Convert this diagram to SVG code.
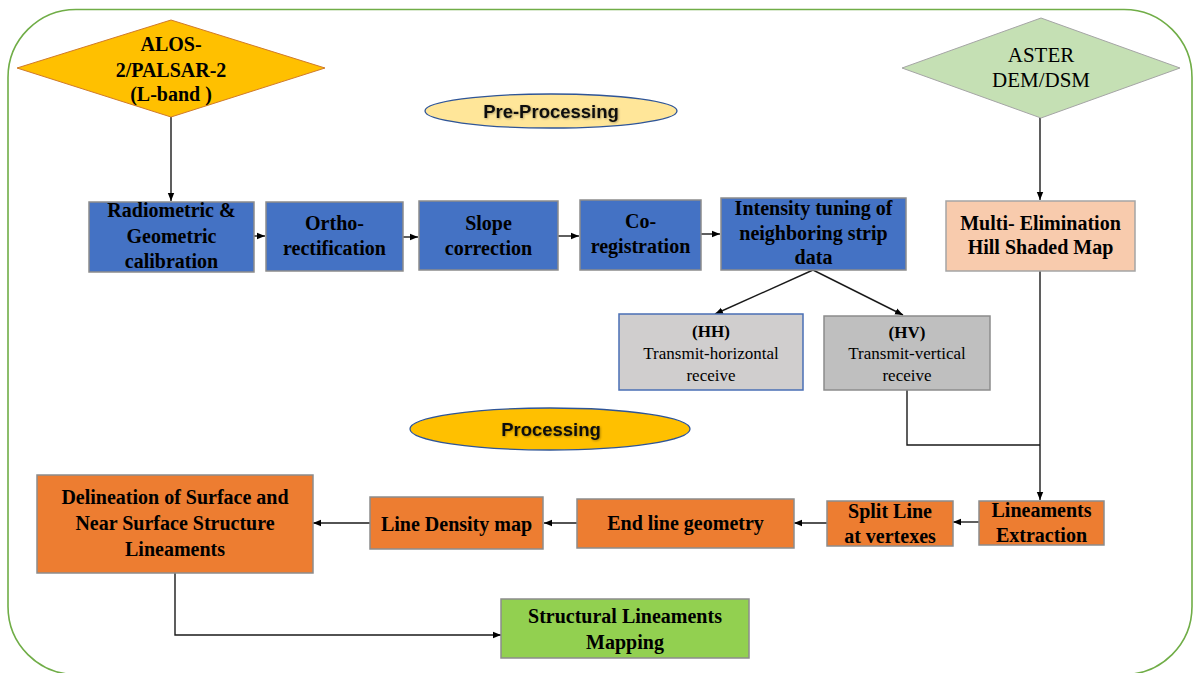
<svg xmlns="http://www.w3.org/2000/svg" width="1193" height="673" viewBox="0 0 1193 673">
<style>
.t{font-family:"Liberation Serif","Times New Roman",serif;font-size:20px;font-weight:bold;fill:#000;text-anchor:middle}
.r{font-family:"Liberation Serif","Times New Roman",serif;font-size:17px;fill:#000;text-anchor:middle}
.s{font-family:"Liberation Sans",Arial,sans-serif;font-size:18.5px;font-weight:bold;fill:#111;text-anchor:middle}
.blue{fill:#4472C4;stroke:#8C8C8C;stroke-width:1.5}
.org{fill:#ED7D31;stroke:#8C8C8C;stroke-width:1.5}
.c{fill:none;stroke:#1a1a1a;stroke-width:1.4}
</style>
<defs>
<marker id="arr" viewBox="0 0 10 10" refX="10" refY="5" markerWidth="8" markerHeight="8" orient="auto" markerUnits="userSpaceOnUse"><path d="M0,1 L10,5 L0,9 z" fill="#000"/></marker>
<filter id="sh" x="-10%" y="-30%" width="120%" height="160%"><feDropShadow dx="0.8" dy="0.8" stdDeviation="0.8" flood-color="#000" flood-opacity="0.35"/></filter>
</defs>
<rect width="1193" height="673" fill="#fff"/>
<rect x="8" y="9.5" width="1184" height="665" rx="68" ry="68" fill="none" stroke="#70AD47" stroke-width="1.6"/>

<g id="connectors">
<path class="c" d="M171,117 V201" marker-end="url(#arr)"/>
<path class="c" d="M254,236 H265" marker-end="url(#arr)"/>
<path class="c" d="M403,237 H418" marker-end="url(#arr)"/>
<path class="c" d="M558,236 H579" marker-end="url(#arr)"/>
<path class="c" d="M701,234 H720" marker-end="url(#arr)"/>
<path class="c" d="M813,270 L715,314" marker-end="url(#arr)"/>
<path class="c" d="M813,270 L903,315" marker-end="url(#arr)"/>
<path class="c" d="M1040,118 V200" marker-end="url(#arr)"/>
<path class="c" d="M1040,271 V500" marker-end="url(#arr)"/>
<path class="c" d="M907,390 V445 H1040"/>
<path class="c" d="M979,522 H953" marker-end="url(#arr)"/>
<path class="c" d="M827,523 H794" marker-end="url(#arr)"/>
<path class="c" d="M577,523 H544" marker-end="url(#arr)"/>
<path class="c" d="M370,523 H313" marker-end="url(#arr)"/>
<path class="c" d="M175,573 V635 H501" marker-end="url(#arr)"/>
</g>

<g id="alos">
<polygon points="17,68 171,20 325,68 171,117" fill="#FFC000" stroke="#D07A2A" stroke-width="1"/>
<text class="t" x="171" y="51">ALOS-</text>
<text class="t" x="171" y="77">2/PALSAR-2</text>
<text class="t" x="171" y="101">(L-band )</text>
</g>

<g id="aster">
<polygon points="902,68 1041,18 1180,68 1041,118" fill="#C5E0B4" stroke="#A5A5A5" stroke-width="1"/>
<text class="t" style="font-weight:normal;font-size:21px" x="1041" y="62">ASTER</text>
<text class="t" style="font-weight:normal;font-size:21px" x="1041" y="87">DEM/DSM</text>
</g>

<g id="preprocessing">
<ellipse cx="551" cy="111" rx="126" ry="17" fill="#FFE699" stroke="#2F5597" stroke-width="1.3"/>
<text class="s" x="551" y="118" filter="url(#sh)">Pre-Processing</text>
</g>

<g id="processing">
<ellipse cx="550" cy="429" rx="140" ry="21" fill="#FFC000" stroke="#2F5597" stroke-width="1.3"/>
<text class="s" x="551" y="436" filter="url(#sh)">Processing</text>
</g>

<g id="radiometric">
<rect class="blue" x="89" y="202" width="165" height="70"/>
<text class="t" x="171.5" y="217">Radiometric &amp;</text>
<text class="t" x="171.5" y="243">Geometric</text>
<text class="t" x="171.5" y="268">calibration</text>
</g>

<g id="ortho">
<rect class="blue" x="266" y="202" width="137" height="69"/>
<text class="t" x="334.5" y="230">Ortho-</text>
<text class="t" x="334.5" y="255">rectification</text>
</g>

<g id="slope">
<rect class="blue" x="419" y="201" width="139" height="69"/>
<text class="t" x="488.5" y="230">Slope</text>
<text class="t" x="488.5" y="255">correction</text>
</g>

<g id="coregistration">
<rect class="blue" x="580" y="200" width="121" height="70"/>
<text class="t" x="640.5" y="228">Co-</text>
<text class="t" x="640.5" y="253">registration</text>
</g>

<g id="intensity">
<rect class="blue" x="721" y="198" width="185" height="72"/>
<text class="t" x="813.5" y="215">Intensity tuning of</text>
<text class="t" x="813.5" y="240">neighboring strip</text>
<text class="t" x="813.5" y="264">data</text>
</g>

<g id="hh">
<rect x="619" y="314" width="184" height="76" fill="#D0CECE" stroke="#4A6FB5" stroke-width="1.5"/>
<text class="r" style="font-weight:bold" x="711" y="337">(HH)</text>
<text class="r" x="711" y="359">Transmit-horizontal</text>
<text class="r" x="711" y="381">receive</text>
</g>

<g id="hv">
<rect x="824" y="316" width="166" height="74" fill="#BFBFBF" stroke="#8C8C8C" stroke-width="1.5"/>
<text class="r" style="font-weight:bold" x="907" y="338">(HV)</text>
<text class="r" x="907" y="359">Transmit-vertical</text>
<text class="r" x="907" y="381">receive</text>
</g>

<g id="multi">
<rect x="946" y="201" width="189" height="70" fill="#F8CBAD" stroke="#A5A5A5" stroke-width="1.5"/>
<text class="t" x="1040.5" y="230">Multi- Elimination</text>
<text class="t" x="1040.5" y="254">Hill Shaded Map</text>
</g>

<g id="lineaments">
<rect class="org" x="979" y="501" width="125" height="44"/>
<text class="t" x="1041.5" y="517">Lineaments</text>
<text class="t" x="1041.5" y="542">Extraction</text>
</g>

<g id="split">
<rect class="org" x="827" y="501" width="126" height="45"/>
<text class="t" x="890" y="518">Split Line</text>
<text class="t" x="890" y="543">at vertexes</text>
</g>

<g id="endline">
<rect class="org" x="577" y="499" width="217" height="49"/>
<text class="t" x="685.5" y="530">End line geometry</text>
</g>

<g id="linedensity">
<rect class="org" x="370" y="497" width="173" height="52"/>
<text class="t" x="456.5" y="531">Line Density map</text>
</g>

<g id="delineation">
<rect class="org" x="37" y="475" width="276" height="98"/>
<text class="t" x="175" y="504">Delineation of Surface and</text>
<text class="t" x="175" y="530">Near Surface Structure</text>
<text class="t" x="175" y="556">Lineaments</text>
</g>

<g id="structural">
<rect x="501" y="599" width="248" height="59" fill="#92D050" stroke="#8C8C8C" stroke-width="1.5"/>
<text class="t" x="625" y="623">Structural Lineaments</text>
<text class="t" x="625" y="649">Mapping</text>
</g>
</svg>
